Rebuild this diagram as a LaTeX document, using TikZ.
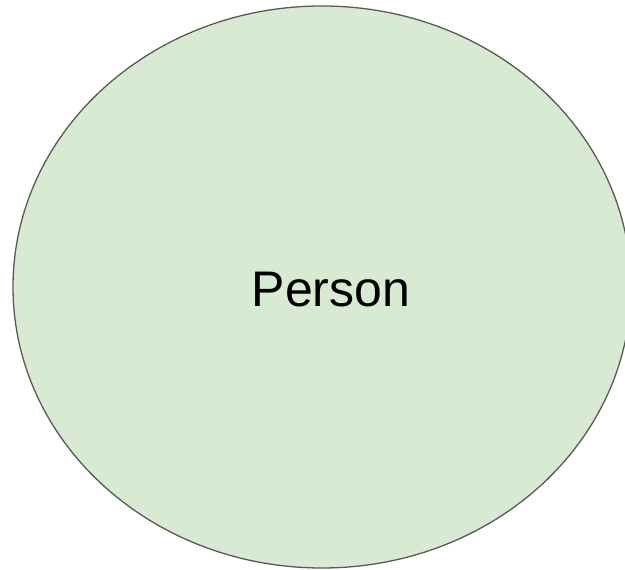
\documentclass[tikz,border=0pt]{standalone}
\usepackage{fontspec}
\setmainfont{Liberation Sans}
\usetikzlibrary{shapes.geometric}
\definecolor{fillgreen}{HTML}{D9EAD3}
\definecolor{strokegray}{HTML}{595959}
\tikzset{
  entity/.style={ellipse, draw=strokegray, fill=fillgreen, line width=1.3pt, inner sep=0pt},
  label text/.style={font=\fontsize{50}{60}\selectfont, text=black, inner sep=0pt}
}
\begin{document}
\begin{tikzpicture}[x=1pt,y=1pt]
\useasboundingbox (0,0) rectangle (625,570);
\clip (0,0) rectangle (625,570);
\node[entity, minimum width=618pt, minimum height=562pt] (person) at (322,283) {};
\node[label text, anchor=base] (personlabel) at (331,263) {Person};
\end{tikzpicture}
\end{document}
